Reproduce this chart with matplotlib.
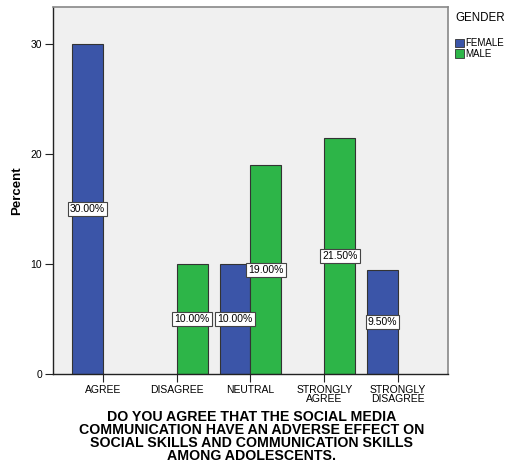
import matplotlib
matplotlib.use("Agg")
import matplotlib.pyplot as plt
import numpy as np
from matplotlib.patches import Patch

plt.rcParams['font.family'] = ['Liberation Sans', 'DejaVu Sans']

categories = ["AGREE", "DISAGREE", "NEUTRAL", "STRONGLY\nAGREE", "STRONGLY\nDISAGREE"]
female = [30.0, 0.0, 10.0, 0.0, 9.5]
male = [0.0, 10.0, 19.0, 21.5, 0.0]
series_names = ["FEMALE", "MALE"]
yticks = [0, 10, 20, 30]

c_female = "#3b55a8"
c_male = "#2db548"

fig = plt.figure(figsize=(5.06, 4.72), dpi=100)
ax = fig.add_axes([53/506, 1 - 374/472, 395/506, 367/472])
ax.set_facecolor("#f0f0f0")

x = np.arange(len(categories))
w = 0.42
for vals, col, off in [(female, c_female, -w / 2), (male, c_male, w / 2)]:
    for xi, v in zip(x, vals):
        if v <= 0:
            continue
        ax.bar(xi + off, v, width=w, color=col, edgecolor="#333333", linewidth=0.8, zorder=2)
        ax.text(xi + off, v / 2, f"{v:.2f}%", ha="center", va="center", fontsize=7.5,
                zorder=3,
                bbox=dict(boxstyle="square,pad=0.2", fc="white", ec="#444444", lw=0.8))

ax.set_xlim(-0.676, 4.676)
ax.set_ylim(0, 33.4)
ax.set_xticks(x)
ax.set_xticklabels(categories, fontsize=7.5, linespacing=0.9)
ax.set_yticks(yticks)
ax.set_yticklabels([str(t) for t in yticks], fontsize=7.5)
ax.tick_params(axis="both", direction="out", length=6, width=0.8, color="#222222")
ax.tick_params(axis="x", pad=2)
ax.tick_params(axis="y", pad=2)
for s in ["top", "right"]:
    ax.spines[s].set_color("#888888")
    ax.spines[s].set_linewidth(1.2)
for s in ["left", "bottom"]:
    ax.spines[s].set_color("#222222")
    ax.spines[s].set_linewidth(1.0)

ax.set_ylabel("Percent", fontsize=9.5, fontweight="bold", labelpad=5)

fig.text(252/506, 1 - 410/472,
         "DO YOU AGREE THAT THE SOCIAL MEDIA\nCOMMUNICATION HAVE AN ADVERSE EFFECT ON\n"
         "SOCIAL SKILLS AND COMMUNICATION SKILLS\nAMONG ADOLESCENTS.",
         ha="center", va="top", fontsize=10.2, fontweight="bold", linespacing=0.9)

handles = [Patch(facecolor=c_female, edgecolor="#333333", lw=0.6),
           Patch(facecolor=c_male, edgecolor="#333333", lw=0.6)]
leg = fig.legend(handles, series_names, title="GENDER", loc="upper left",
                 bbox_to_anchor=(455/506, 1 - 12/472), frameon=False, fontsize=7.0,
                 title_fontsize=8.3, handlelength=0.9, handleheight=0.9,
                 handletextpad=0.2, labelspacing=0.1, borderpad=0, borderaxespad=0)
leg._legend_box.align = "left"
leg._legend_box.sep = 10

fig.savefig("out.png", dpi=100)
